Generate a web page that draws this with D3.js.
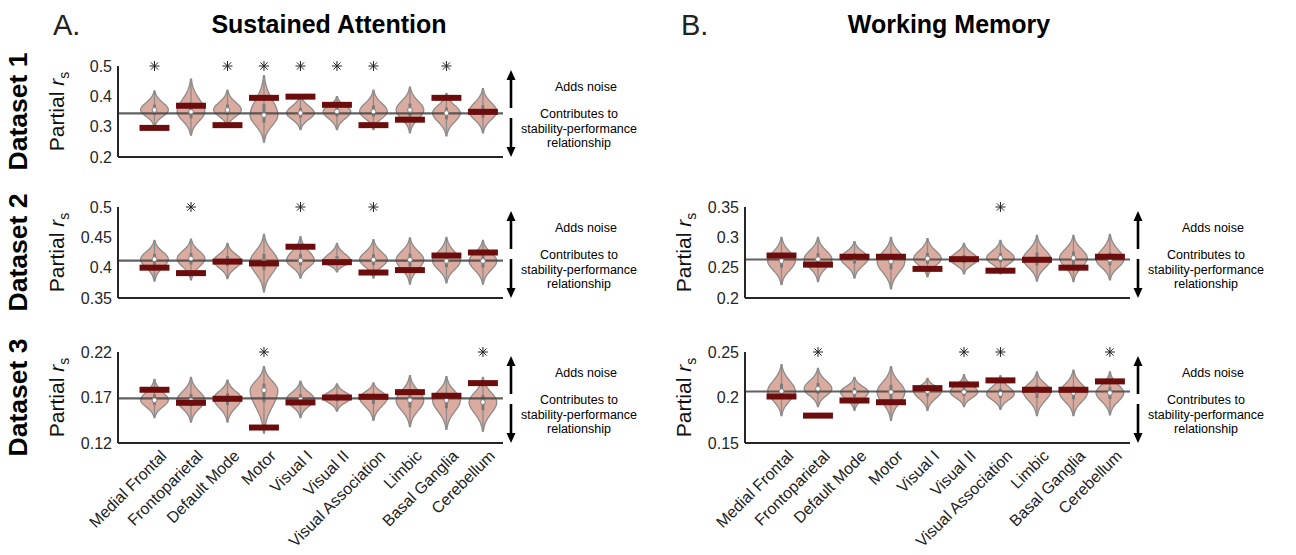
<!DOCTYPE html>
<html>
<head>
<meta charset="utf-8">
<script src="https://cdn.jsdelivr.net/npm/d3@7"></script>
<style>
  html, body { margin: 0; padding: 0; background: #fff; }
  svg text { font-family: "Liberation Sans", Arial, Helvetica, sans-serif; }
</style>
</head>
<body>
<div id="chart"></div>
<script>
const regions = ['Medial Frontal', 'Frontoparietal', 'Default Mode', 'Motor', 'Visual I',
  'Visual II', 'Visual Association', 'Limbic', 'Basal Ganglia', 'Cerebellum'];

// Sustained attention, dataset 1
const saD1Ticks = [0.2, 0.3, 0.4, 0.5];
const saD1Mean = 0.344;
const saD1Bar = [0.296, 0.369, 0.305, 0.395, 0.399, 0.372, 0.305, 0.323, 0.395, 0.349];
const saD1Med = [0.355, 0.349, 0.355, 0.338, 0.345, 0.35, 0.35, 0.355, 0.345, 0.35];
const saD1Low = [0.30, 0.272, 0.30, 0.249, 0.29, 0.29, 0.29, 0.28, 0.27, 0.28];
const saD1High = [0.418, 0.457, 0.42, 0.468, 0.405, 0.399, 0.42, 0.43, 0.41, 0.425];
const saD1Sig = [1, 0, 1, 1, 1, 1, 1, 0, 1, 0];

// Sustained attention, dataset 2
const saD2Ticks = [0.35, 0.4, 0.45, 0.5];
const saD2Mean = 0.4115;
const saD2Bar = [0.400, 0.391, 0.410, 0.407, 0.4345, 0.409, 0.392, 0.396, 0.420, 0.425];
const saD2Med = [0.414, 0.415, 0.411, 0.41, 0.412, 0.411, 0.413, 0.413, 0.411, 0.411];
const saD2Low = [0.378, 0.38, 0.382, 0.36, 0.383, 0.393, 0.383, 0.373, 0.375, 0.373];
const saD2High = [0.445, 0.447, 0.44, 0.455, 0.451, 0.44, 0.446, 0.449, 0.45, 0.445];
const saD2Sig = [0, 1, 0, 0, 1, 0, 1, 0, 0, 0];

// Sustained attention, dataset 3
const saD3Ticks = [0.12, 0.17, 0.22];
const saD3Mean = 0.169;
const saD3Bar = [0.1785, 0.1642, 0.1686, 0.137, 0.1646, 0.170, 0.1708, 0.1759, 0.1719, 0.1858];
const saD3Med = [0.167, 0.167, 0.169, 0.178, 0.168, 0.17, 0.17, 0.167, 0.167, 0.165];
const saD3Low = [0.148, 0.143, 0.143, 0.131, 0.148, 0.155, 0.145, 0.138, 0.135, 0.133];
const saD3High = [0.19, 0.192, 0.189, 0.204, 0.188, 0.185, 0.186, 0.194, 0.193, 0.192];
const saD3Sig = [0, 0, 0, 1, 0, 0, 0, 0, 0, 1];

// Working memory, dataset 2
const wmD2Ticks = [0.2, 0.25, 0.3, 0.35];
const wmD2Mean = 0.2635;
const wmD2Bar = [0.270, 0.255, 0.268, 0.268, 0.248, 0.264, 0.245, 0.263, 0.25, 0.268];
const wmD2Med = [0.261, 0.264, 0.266, 0.26, 0.265, 0.264, 0.266, 0.264, 0.266, 0.263];
const wmD2Low = [0.222, 0.227, 0.233, 0.215, 0.235, 0.24, 0.24, 0.228, 0.227, 0.23];
const wmD2High = [0.30, 0.30, 0.293, 0.30, 0.298, 0.29, 0.295, 0.303, 0.303, 0.305];
const wmD2Sig = [0, 0, 0, 0, 0, 0, 1, 0, 0, 0];

// Working memory, dataset 3
const wmD3Ticks = [0.15, 0.2, 0.25];
const wmD3Mean = 0.2066;
const wmD3Bar = [0.2011, 0.1801, 0.1967, 0.1948, 0.2103, 0.2143, 0.2188, 0.2085, 0.2085, 0.2177];
const wmD3Med = [0.207, 0.2096, 0.206, 0.206, 0.207, 0.206, 0.204, 0.207, 0.205, 0.205];
const wmD3Low = [0.18, 0.19, 0.186, 0.175, 0.186, 0.19, 0.187, 0.18, 0.18, 0.181];
const wmD3High = [0.236, 0.232, 0.222, 0.234, 0.221, 0.225, 0.224, 0.228, 0.23, 0.228];
const wmD3Sig = [0, 1, 0, 0, 0, 1, 1, 0, 0, 1];

const W = 1296, H = 555;
const svg = d3.select('#chart').append('svg').attr('width', W).attr('height', H);

const FONT = '"Liberation Sans", Arial, Helvetica, sans-serif';
const axisColor = '#262626';

// panel headers
svg.append('text').attr('x', 53).attr('y', 35).attr('font-size', 29).attr('fill', '#222').text('A.');
svg.append('text').attr('x', 329).attr('y', 33).attr('text-anchor', 'middle')
  .attr('font-size', 25).attr('font-weight', 'bold').text('Sustained Attention');
svg.append('text').attr('x', 681).attr('y', 35).attr('font-size', 29).attr('fill', '#222').text('B.');
svg.append('text').attr('x', 949).attr('y', 33).attr('text-anchor', 'middle')
  .attr('font-size', 25).attr('font-weight', 'bold').text('Working Memory');

const rowTops = [66, 207, 352];
const plotH = 91;
const colLeft = [118, 745];
const plotW = 385;

['Dataset 1', 'Dataset 2', 'Dataset 3'].forEach((t, i) => {
  const cy = rowTops[i] + plotH / 2;
  svg.append('text')
    .attr('transform', `translate(27,${cy}) rotate(-90)`)
    .attr('text-anchor', 'middle')
    .attr('font-size', 26.5).attr('font-weight', 'bold')
    .text(t);
});

const panels = [
  { col: 0, row: 0, ticks: saD1Ticks, mean: saD1Mean, bar: saD1Bar, med: saD1Med, low: saD1Low, high: saD1High, sig: saD1Sig },
  { col: 0, row: 1, ticks: saD2Ticks, mean: saD2Mean, bar: saD2Bar, med: saD2Med, low: saD2Low, high: saD2High, sig: saD2Sig },
  { col: 0, row: 2, ticks: saD3Ticks, mean: saD3Mean, bar: saD3Bar, med: saD3Med, low: saD3Low, high: saD3High, sig: saD3Sig },
  { col: 1, row: 1, ticks: wmD2Ticks, mean: wmD2Mean, bar: wmD2Bar, med: wmD2Med, low: wmD2Low, high: wmD2High, sig: wmD2Sig },
  { col: 1, row: 2, ticks: wmD3Ticks, mean: wmD3Mean, bar: wmD3Bar, med: wmD3Med, low: wmD3Low, high: wmD3High, sig: wmD3Sig },
];

function drawPanel(p) {
  const left = colLeft[p.col];
  const top = rowTops[p.row];
  const g = svg.append('g').attr('transform', `translate(${left},${top})`);

  const x = d3.scaleLinear().domain([0, 10.55]).range([0, plotW]);
  const y = d3.scaleLinear().domain([p.ticks[0], p.ticks[p.ticks.length - 1]]).range([plotH, 0]);

  // y axis
  const yAxis = g.append('g')
    .call(d3.axisLeft(y).tickValues(p.ticks).tickSize(0).tickPadding(6).tickFormat(d => String(+d.toFixed(2))));
  yAxis.select('.domain').remove();
  yAxis.selectAll('text').attr('font-size', 16).attr('fill', axisColor).style('font-family', FONT);

  // y label
  const yl = g.append('text')
    .attr('transform', `translate(-54,${plotH / 2}) rotate(-90)`)
    .attr('text-anchor', 'middle')
    .attr('font-size', 21).attr('fill', '#111');
  yl.append('tspan').text('Partial ');
  yl.append('tspan').attr('font-style', 'italic').text('r');
  yl.append('tspan').attr('font-size', 14).attr('dy', 5).text('s');

  // violins
  const halfW = 0.38;
  const area = d3.area()
    .y(d => y(d[0]))
    .x0(d => d[1])
    .x1(d => d[2])
    .curve(d3.curveBasis);

  regions.forEach((r, i) => {
    const cx = x(i + 1);
    const lo = p.low[i], hi = p.high[i], md = p.med[i];
    const pts = [];
    const n = 40;
    for (let k = 0; k <= n; k++) {
      const v = lo + (hi - lo) * k / n;
      const d = v < md ? (md - v) / (md - lo) : (v - md) / (hi - md);
      const hw = x(halfW) - x(0);
      const w = hw * Math.exp(-0.5 * Math.pow(d * 2.6, 2));
      pts.push([v, cx - w, cx + w]);
    }
    g.append('path').datum(pts)
      .attr('d', area)
      .attr('fill', '#d6a293').attr('fill-opacity', 0.9)
      .attr('stroke', '#8c8c8c').attr('stroke-width', 1.3);
    // whisker
    g.append('line').attr('x1', cx).attr('x2', cx).attr('y1', y(lo)).attr('y2', y(hi))
      .attr('stroke', '#8c8c8c').attr('stroke-width', 1.3);
    // box
    g.append('line').attr('x1', cx).attr('x2', cx)
      .attr('y1', y(md - (md - lo) * 0.28)).attr('y2', y(md + (hi - md) * 0.28))
      .attr('stroke', '#7a7a7a').attr('stroke-width', 3);
  });

  // mean line
  g.append('line').attr('x1', 0).attr('x2', plotW).attr('y1', y(p.mean)).attr('y2', y(p.mean))
    .attr('stroke', '#454545').attr('stroke-opacity', 0.85).attr('stroke-width', 2.2);

  // medians
  regions.forEach((r, i) => {
    g.append('circle').attr('cx', x(i + 1)).attr('cy', y(p.med[i])).attr('r', 2.4)
      .attr('fill', '#fff').attr('stroke', '#808080').attr('stroke-width', 1);
  });

  // observed value bars
  const bw = x(0.82) - x(0);
  g.selectAll('rect.obs').data(p.bar).enter().append('rect')
    .attr('class', 'obs')
    .attr('x', (d, i) => x(i + 1) - bw / 2)
    .attr('y', d => y(d) - 3)
    .attr('width', bw).attr('height', 6)
    .attr('fill', '#6b0d0d');

  // significance asterisks
  p.sig.forEach((s, i) => {
    if (!s) return;
    const sx = x(i + 1), sy = y(p.ticks[p.ticks.length - 1]);
    const a = 5;
    [[0, a], [a, 0], [a * 0.72, a * 0.72], [a * 0.72, -a * 0.72]].forEach(([dx, dy]) => {
      g.append('line').attr('x1', sx - dx).attr('x2', sx + dx).attr('y1', sy - dy).attr('y2', sy + dy)
        .attr('stroke', '#222').attr('stroke-width', 1);
    });
  });

  // axes lines
  g.append('line').attr('x1', 0).attr('x2', 0).attr('y1', 0).attr('y2', plotH)
    .attr('stroke', axisColor).attr('stroke-width', 2);
  g.append('line').attr('x1', 0).attr('x2', plotW).attr('y1', plotH).attr('y2', plotH)
    .attr('stroke', axisColor).attr('stroke-width', 2.2);

  // x labels on bottom row
  if (p.row === 2) {
    regions.forEach((r, i) => {
      g.append('text')
        .attr('transform', `translate(${x(i + 1) + 9},${plotH + 10}) rotate(-45)`)
        .attr('text-anchor', 'end')
        .attr('dy', '0.35em')
        .attr('font-size', 16).attr('fill', '#222')
        .text(r);
    });
  }

  // arrows + annotation
  const ax = plotW + 8;
  const arrow = (y1, y2) => {
    const dir = y2 < y1 ? -1 : 1;
    g.append('line').attr('x1', ax).attr('x2', ax).attr('y1', y1).attr('y2', y2 - dir * 8)
      .attr('stroke', '#000').attr('stroke-width', 2.6);
    g.append('path')
      .attr('d', `M${ax - 4.5},${y2 - dir * 10} L${ax + 4.5},${y2 - dir * 10} L${ax},${y2} Z`)
      .attr('fill', '#000');
  };
  arrow(42, 4);
  arrow(52, 91);
  g.append('text').attr('x', ax + 44).attr('y', 25).attr('font-size', 12.5).text('Adds noise');
  ['Contributes to', 'stability-performance', 'relationship'].forEach((t, k) => {
    g.append('text').attr('x', ax + 68).attr('y', 52 + k * 14.5)
      .attr('text-anchor', 'middle').attr('font-size', 12.5).text(t);
  });
}

panels.forEach(drawPanel);
</script>
</body>
</html>
